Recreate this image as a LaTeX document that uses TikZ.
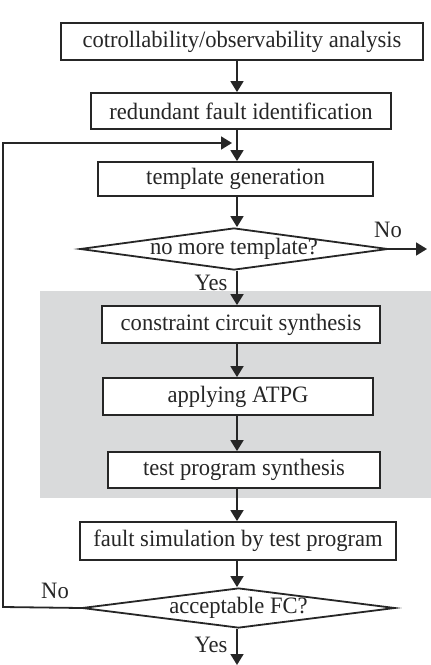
\documentclass[tikz,border=0pt]{standalone}
\usepackage{fontspec}
\setmainfont[FakeStretch=0.96]{Liberation Serif}
\usetikzlibrary{positioning,arrows.meta,shapes.geometric,calc}
\definecolor{inkBlack}{HTML}{262626}
\definecolor{panelGrey}{HTML}{D9DADB}

\tikzset{
  stepbox/.style={draw=inkBlack,line width=1.8pt,fill=white,inner sep=0pt,
    font=\fontsize{23.5}{26}\selectfont,text=inkBlack},
  choice/.style={draw=inkBlack,line width=1.8pt,fill=white,diamond,aspect=7.3,
    inner sep=0pt,font=\fontsize{23.5}{26}\selectfont,text=inkBlack},
  flow/.style={draw=inkBlack,line width=1.8pt,-{Triangle[length=11pt,width=13pt]}},
  tag/.style={font=\fontsize{23.5}{26}\selectfont,text=inkBlack,inner sep=0pt}
}

\begin{document}
\begin{tikzpicture}[x=1pt,y=-1pt]
\useasboundingbox (0,0) rectangle (431,665);
\node[fill=panelGrey,minimum width=391pt,minimum height=207pt,anchor=north west,inner sep=0pt] (panel) at (40,291) {};
\coordinate (axis) at (237,0);

\node[stepbox,minimum width=362pt,minimum height=37pt] (obs) at (242,41.5) {cotrollability/observability analysis};
\node[stepbox,minimum width=300pt,minimum height=36pt] (redund) at (241,111) {redundant fault identification};
\node[stepbox,minimum width=275pt,minimum height=34pt] (templ) at (235.5,179) {template generation};
\node[choice,minimum width=308pt,minimum height=42pt] (more) at (234,249) {\makebox[0pt]{no more template?}};
\node[stepbox,minimum width=278pt,minimum height=37pt] (constr) at (241,324.5) {constraint circuit synthesis};
\node[stepbox,minimum width=270pt,minimum height=37pt] (atpg) at (238,396.5) {applying ATPG};
\node[stepbox,minimum width=272pt,minimum height=36pt] (prog) at (244,470) {test program synthesis};
\node[stepbox,minimum width=316pt,minimum height=38pt] (fsim) at (238,541) {fault simulation by test program};
\node[choice,minimum width=313pt,minimum height=40pt] (fc) at (238.5,608) {\makebox[0pt]{acceptable FC?}};

\coordinate (exitR) at (427,249);
\coordinate (exitB) at (237,665);
\coordinate (loopB) at (3,607);
\coordinate (loopT) at (3,143);
\coordinate (loopE) at (232,143);

% main column
\draw[flow] (obs.south -| axis) -- (redund.north -| axis);
\draw[flow] (redund.south -| axis) -- (templ.north -| axis);
\draw[flow] (templ.south -| axis) -- (more.north -| axis);
\draw[flow] (more.south -| axis) -- (constr.north -| axis);
\draw[flow] (constr.south -| axis) -- (atpg.north -| axis);
\draw[flow] (atpg.south -| axis) -- (prog.north -| axis);
\draw[flow] (prog.south -| axis) -- (fsim.north -| axis);
\draw[flow] (fsim.south -| axis) -- (fc.north -| axis);
\draw[flow] (fc.south -| axis) -- (exitB);
\draw[flow] (more.east) -- (exitR);
% back to templates
\draw[flow] (fc.west) -- (loopB) -- (loopT) -- (loopE);

\node[tag] (moreNo) at (388,230) {No};
\node[tag] (moreYes) at (211,283) {Yes};
\node[tag] (fcNo) at (55,591) {No};
\node[tag] (fcYes) at (211,645) {Yes};
\end{tikzpicture}
\end{document}
